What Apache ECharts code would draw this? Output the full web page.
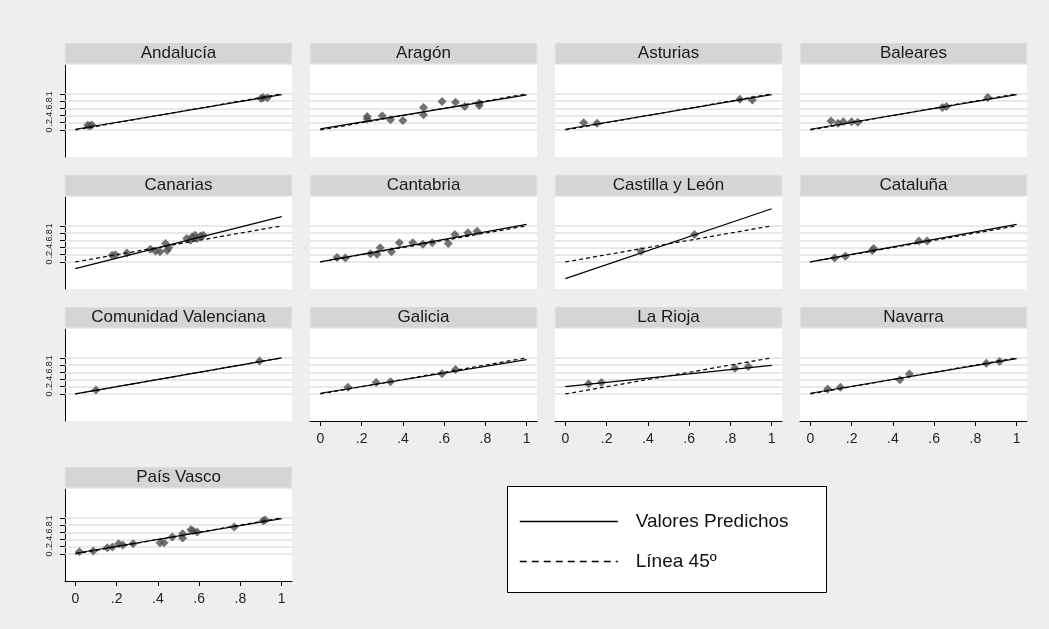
<!DOCTYPE html>
<html><head><meta charset="utf-8">
<script src="https://cdn.jsdelivr.net/npm/echarts@6/dist/echarts.min.js"></script>
<style>html,body{margin:0;padding:0;background:#eeeeee}#c{width:1049px;height:629px}</style>
</head><body><div id="c"></div>
<script>
// ---- data ----
const regions = ['Andalucía','Aragón','Asturias','Baleares','Canarias','Cantabria','Castilla y León','Cataluña','Comunidad Valenciana','Galicia','La Rioja','Navarra','País Vasco'];
const intercepts = [0.02, 0.03, 0.02, 0.02, -0.185, 0.0, -0.463, 0.0, 0.0, 0.02, 0.204, 0.02, 0.02];
const slopes     = [0.96, 0.94, 0.96, 0.96, 1.44, 1.04, 1.936, 1.04, 1.0, 0.93, 0.586, 0.96, 0.96];
const pointsX = [
  [0.06,0.07,0.08,0.90,0.91,0.93],
  [0.227,0.227,0.30,0.34,0.40,0.50,0.50,0.59,0.655,0.70,0.77,0.77],
  [0.089,0.154,0.846,0.906],
  [0.10,0.134,0.16,0.20,0.23,0.64,0.66,0.86],
  [0.178,0.194,0.25,0.364,0.388,0.41,0.437,0.453,0.445,0.54,0.566,0.58,0.607,0.62,0.558,0.59],
  [0.081,0.121,0.243,0.275,0.29,0.345,0.383,0.448,0.497,0.542,0.62,0.652,0.715,0.76],
  [0.367,0.626],
  [0.118,0.17,0.30,0.307,0.526,0.566],
  [0.10,0.893],
  [0.134,0.27,0.34,0.59,0.655],
  [0.113,0.175,0.822,0.887],
  [0.084,0.146,0.434,0.48,0.853,0.917],
  [0.02,0.087,0.155,0.18,0.21,0.23,0.28,0.41,0.43,0.47,0.52,0.52,0.56,0.57,0.59,0.77,0.91,0.92]
];
const pointsY = [
  [0.13,0.11,0.14,0.87,0.90,0.89],
  [0.37,0.30,0.39,0.28,0.26,0.62,0.42,0.79,0.77,0.65,0.74,0.68],
  [0.20,0.185,0.85,0.83],
  [0.25,0.185,0.23,0.23,0.21,0.62,0.65,0.90],
  [0.185,0.20,0.25,0.35,0.30,0.28,0.51,0.39,0.32,0.65,0.69,0.74,0.72,0.74,0.60,0.65],
  [0.12,0.11,0.23,0.21,0.39,0.28,0.53,0.53,0.49,0.53,0.51,0.76,0.81,0.85],
  [0.296,0.76],
  [0.11,0.157,0.32,0.37,0.58,0.58],
  [0.11,0.91],
  [0.185,0.32,0.34,0.56,0.68],
  [0.28,0.315,0.71,0.76],
  [0.14,0.185,0.39,0.556,0.85,0.90],
  [0.06,0.08,0.17,0.19,0.28,0.25,0.28,0.31,0.31,0.47,0.56,0.44,0.67,0.64,0.61,0.75,0.92,0.94]
];
const tickValues = [0, 0.2, 0.4, 0.6, 0.8, 1];
const tickLabels = ['0', '.2', '.4', '.6', '.8', '1'];
const legendLabels = ['Valores Predichos', 'Línea 45º'];

// ---- layout ----
const colX = [65, 310, 555, 800];
const rowY = [65, 197, 329, 489];
const PW = 227, PH = 92, STRIP = 22;
const bottomPanels = [9, 10, 11, 12];
const FONT = '"Liberation Sans", Arial, sans-serif';
const fmt = v => { const k = tickValues.findIndex(t => Math.abs(t - v) < 1e-9); return k >= 0 ? tickLabels[k] : ''; };

const grid = [], xAxis = [], yAxis = [], series = [], graphic = [];
regions.forEach((name, i) => {
  const row = Math.floor(i / 4), col = i % 4;
  const left = colX[col], top = rowY[row];
  const showX = bottomPanels.includes(i), showY = col === 0;
  grid.push({ left, top, width: PW, height: PH, show: true, backgroundColor: '#ffffff', borderWidth: 0 });
  xAxis.push({
    type: 'value', gridIndex: i, min: -0.05, max: 1.05,
    axisLine: { show: showX, onZero: false, lineStyle: { color: '#000', width: 1 } },
    axisTick: { show: showX, customValues: tickValues, length: 5, lineStyle: { color: '#000' } },
    axisLabel: { show: showX, customValues: tickValues, formatter: fmt, fontSize: 14, color: '#222', margin: 11, fontFamily: FONT },
    splitLine: { show: false }
  });
  yAxis.push({
    type: 'value', gridIndex: i, min: -0.75, max: 1.8,
    axisLine: { show: showY, onZero: false, lineStyle: { color: '#000', width: 1 } },
    axisTick: { show: showY, customValues: tickValues, length: 5, lineStyle: { color: '#000' } },
    axisLabel: { show: showY, customValues: tickValues, formatter: fmt, rotate: 90, fontSize: 9, color: '#222', margin: 11, fontFamily: FONT },
    splitLine: { show: false }
  });
  series.push({
    type: 'scatter', xAxisIndex: i, yAxisIndex: i, silent: true, z: 2,
    data: pointsX[i].map((x, k) => [x, pointsY[i][k]]),
    symbol: 'diamond', symbolSize: 9, itemStyle: { color: '#505050' },
    markLine: {
      silent: true, symbol: 'none', z: 1, animation: false,
      label: { show: false },
      lineStyle: { color: '#e2e2e2', type: 'solid', width: 1.5 },
      data: tickValues.map(v => ({ yAxis: v }))
    }
  });
  series.push({
    type: 'line', name: legendLabels[0], xAxisIndex: i, yAxisIndex: i, silent: true, z: 3,
    data: [[tickValues[0], intercepts[i]], [tickValues[5], intercepts[i] + slopes[i]]],
    symbol: 'none', itemStyle: { color: '#000' }, lineStyle: { color: '#000', width: 1.2 }
  });
  series.push({
    type: 'line', name: legendLabels[1], xAxisIndex: i, yAxisIndex: i, silent: true, z: 3,
    data: [[tickValues[0], tickValues[0]], [tickValues[5], tickValues[5]]],
    symbol: 'none', itemStyle: { color: '#000' }, lineStyle: { color: '#000', width: 1.2, type: [4, 3] }
  });
  graphic.push({
    type: 'rect', silent: true, z: 1,
    shape: { x: left, y: top - STRIP, width: PW, height: STRIP - 1 },
    style: { fill: '#d5d5d5', stroke: '#e3e7eb', lineWidth: 1 }
  });
  graphic.push({
    type: 'text', silent: true, z: 2, x: left + PW / 2, y: top - STRIP / 2 - 0.5,
    style: { text: name, align: 'center', verticalAlign: 'middle', fontSize: 17, fontFamily: FONT, fill: '#1a1a1a' }
  });
});

graphic.push({
  type: 'rect', silent: true, z: 0,
  shape: { x: 507.5, y: 486.5, width: 319, height: 106 },
  style: { fill: '#ffffff', stroke: '#000', lineWidth: 1 }
});

const option = {
  backgroundColor: '#eeeeee',
  animation: false,
  grid, xAxis, yAxis, series, graphic,
  legend: {
    orient: 'vertical', left: 519, top: 512, padding: 0,
    itemWidth: 98, itemHeight: 20, itemGap: 21, selectedMode: false,
    itemStyle: { opacity: 0 },
    data: [
      { name: legendLabels[0], itemStyle: { opacity: 0 }, lineStyle: { color: '#000', width: 1.5 } },
      { name: legendLabels[1], itemStyle: { opacity: 0 }, lineStyle: { color: '#000', width: 1.5, type: [7, 5] } }
    ],
    textStyle: { fontSize: 19, color: '#111', fontFamily: FONT, padding: [0, 0, 0, 13] }
  }
};
const chart = echarts.init(document.getElementById('c'), null, { renderer: 'canvas' });
chart.setOption(option);
</script></body></html>
